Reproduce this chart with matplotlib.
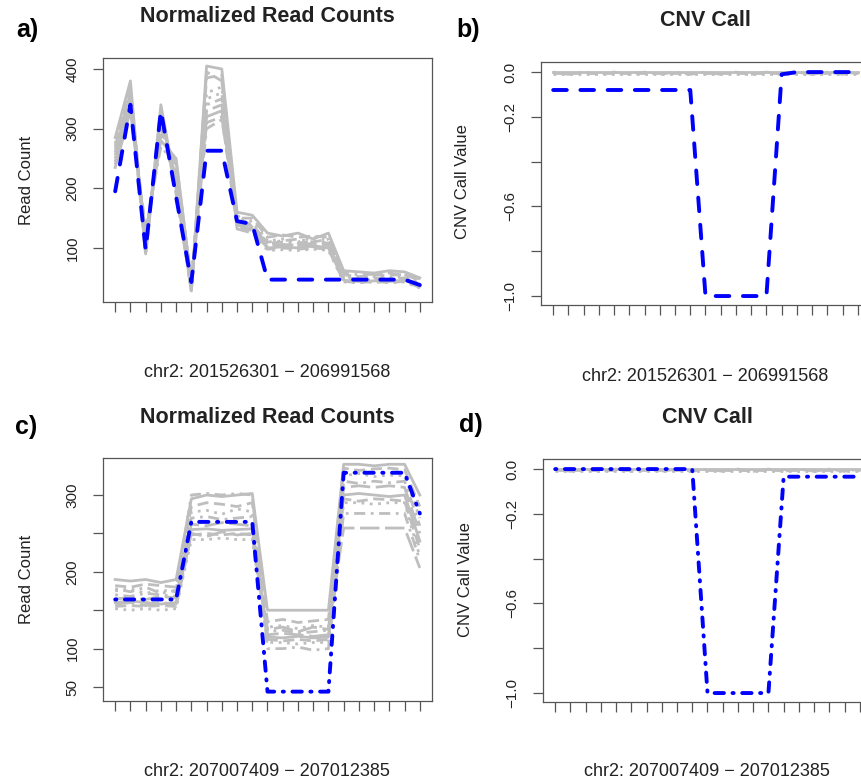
import matplotlib
matplotlib.use("Agg")
import matplotlib.pyplot as plt

plt.rcParams['font.family'] = ['Liberation Sans', 'DejaVu Sans']

W, H = 862, 783

# ---- data (21 bins per region) ----
bins = list(range(1, 22))

# panel a: normalized read counts, region 1
a_blue = [195, 340, 97, 330, 186, 43, 263, 263, 145, 140, 47, 47, 47, 47, 47, 47, 47, 47, 47, 47, 38]
a_grey = [
    [285, 380, 90, 340, 200, 28, 405, 400, 160, 155, 125, 120, 125, 115, 125, 62, 60, 58, 62, 60, 50],
    [270, 365, 100, 320, 215, 32, 385, 390, 150, 150, 118, 122, 118, 120, 118, 55, 52, 55, 54, 56, 45],
    [260, 355, 110, 310, 225, 35, 360, 370, 148, 145, 112, 115, 110, 118, 112, 52, 50, 52, 50, 52, 42],
    [250, 345, 115, 300, 235, 38, 340, 350, 145, 140, 108, 110, 108, 112, 108, 50, 48, 50, 48, 50, 40],
    [240, 335, 120, 290, 245, 40, 330, 340, 140, 138, 105, 106, 104, 108, 104, 48, 46, 47, 46, 48, 38],
    [235, 330, 125, 280, 250, 42, 320, 330, 138, 132, 100, 102, 100, 104, 100, 46, 44, 45, 44, 46, 36],
    [255, 350, 95, 330, 190, 30, 310, 320, 135, 130, 98, 100, 98, 100, 98, 44, 42, 44, 42, 44, 34],
    [275, 370, 105, 300, 205, 45, 350, 360, 142, 128, 96, 97, 96, 98, 96, 43, 42, 43, 42, 43, 33],
    [245, 340, 130, 270, 240, 48, 300, 315, 155, 135, 110, 112, 115, 110, 115, 58, 55, 56, 58, 55, 48],
    [265, 360, 88, 325, 210, 26, 395, 380, 132, 125, 102, 104, 106, 102, 106, 47, 45, 47, 45, 47, 37],
]

# panel b: CNV call, region 1
b_blue = [-0.08, -0.08, -0.08, -0.08, -0.08, -0.08, -0.08, -0.08, -0.08, -0.08,
          -1.0, -1.0, -1.0, -1.0, -1.0, -0.01, 0.0, 0.0, 0.0, 0.0, 0.0]
b_grey = [
    [0.0, 0.0, 0.0, 0.0, 0.0, 0.0, 0.0, 0.0, 0.0, 0.0, 0.0, 0.0, 0.0, 0.0, 0.0, 0.0, 0.0, 0.0, 0.0, 0.0, 0.0],
    [-0.005, -0.005, -0.005, -0.005, -0.005, -0.005, -0.005, -0.005, -0.005, -0.005, -0.005,
     -0.005, -0.005, -0.005, -0.005, -0.005, -0.005, -0.005, -0.005, -0.005, -0.005],
    [-0.01, -0.01, -0.01, -0.01, -0.01, -0.01, -0.01, -0.01, -0.01, -0.01, -0.01,
     -0.01, -0.01, -0.01, -0.01, -0.01, -0.01, -0.01, -0.01, -0.01, -0.01],
    [0.0, -0.01, 0.0, -0.01, 0.0, -0.01, 0.0, -0.01, 0.0, -0.01, 0.0,
     -0.01, 0.0, -0.01, 0.0, -0.01, 0.0, -0.01, 0.0, -0.01, 0.0],
]

# panel c: normalized read counts, region 2
c_blue = [164, 164, 164, 164, 164, 265, 265, 265, 265, 265, 44, 44, 44, 44, 44, 329, 329, 329, 329, 329, 276]
c_grey = [
    [190, 188, 190, 186, 190, 295, 300, 298, 300, 302, 150, 150, 150, 150, 150, 340, 340, 338, 340, 340, 300],
    [182, 180, 184, 182, 180, 285, 290, 288, 285, 290, 135, 138, 134, 136, 138, 335, 332, 334, 335, 333, 285],
    [175, 178, 172, 176, 174, 278, 280, 275, 282, 278, 128, 130, 126, 130, 128, 325, 328, 324, 326, 325, 270],
    [170, 168, 172, 170, 168, 270, 272, 268, 270, 272, 122, 124, 120, 122, 124, 318, 315, 318, 316, 318, 260],
    [165, 166, 164, 168, 166, 262, 260, 264, 262, 260, 118, 120, 118, 116, 118, 310, 312, 310, 312, 310, 250],
    [160, 162, 160, 158, 160, 255, 256, 254, 255, 256, 115, 114, 116, 114, 115, 300, 302, 300, 298, 300, 240],
    [155, 156, 155, 156, 155, 248, 250, 248, 250, 248, 112, 110, 112, 110, 112, 295, 292, 295, 294, 292, 230],
    [152, 150, 152, 150, 152, 242, 242, 244, 242, 242, 108, 108, 106, 108, 108, 290, 290, 288, 290, 290, 220],
    [178, 174, 180, 172, 176, 300, 302, 300, 302, 300, 100, 100, 102, 98, 100, 276, 276, 276, 276, 276, 215],
    [158, 160, 156, 160, 158, 250, 246, 252, 248, 250, 125, 128, 122, 128, 125, 257, 257, 257, 257, 257, 205],
]

# panel d: CNV call, region 2
d_blue = [0.0, 0.0, 0.0, 0.0, 0.0, 0.0, 0.0, 0.0, 0.0, 0.0,
          -1.0, -1.0, -1.0, -1.0, -1.0, -0.034, -0.034, -0.034, -0.034, -0.034, -0.034]
d_grey = b_grey

read_ticks_a = [100, 200, 300, 400]
read_ticks_c = [50, 100, 150, 200, 250, 300]
read_labels_c = ['50', '100', '', '200', '', '300']
cnv_ticks = [0.0, -0.2, -0.4, -0.6, -0.8, -1.0]
cnv_labels = ['0.0', '\u22120.2', '', '\u22120.6', '', '\u22121.0']

region1 = 'chr2: 201526301 \u2212 206991568'
region2 = 'chr2: 207007409 \u2212 207012385'

GREY = '#bebebe'
BLUE = '#0000ff'
TXT = '#222222'
grey_styles = ['-', (0, (4, 2)), (0, (1, 2)), (0, (1, 2, 4, 2)), (0, (7, 2))]


def rect(left, top, right, bottom):
    return [left / W, 1 - bottom / H, (right - left) / W, (bottom - top) / H]


def style_axes(ax, ylim, yticks, ylabels):
    ax.set_xlim(0.2, 21.8)
    ax.set_ylim(*ylim)
    ax.set_xticks(bins)
    ax.set_xticklabels([])
    ax.set_yticks(yticks)
    ax.set_yticklabels(ylabels, rotation=90, va='center', fontsize=11, color=TXT)
    ax.tick_params(direction='out', length=7, width=0.9, color='#555555', pad=10)
    for s in ax.spines.values():
        s.set_color('#555555')
        s.set_linewidth(0.9)


def draw(ax, grey, blue, dashes):
    for i, g in enumerate(grey):
        ax.plot(bins, g, color=GREY, lw=2.0, linestyle=grey_styles[i % len(grey_styles)], zorder=2)
    ax.plot(bins, blue, color=BLUE, lw=2.8, linestyle=(0, dashes),
            dash_capstyle='round', zorder=3)


fig = plt.figure(figsize=(W / 100, H / 100), dpi=100)

ax_a = fig.add_axes(rect(103, 58, 432, 302))
draw(ax_a, a_grey, a_blue, (3.5, 3.5))
style_axes(ax_a, (9.5, 418.4), read_ticks_a, [str(t) for t in read_ticks_a])

ax_b = fig.add_axes(rect(541, 62, 870, 305))
draw(ax_b, b_grey, b_blue, (3.5, 3.5))
style_axes(ax_b, (-1.04, 0.045), cnv_ticks, cnv_labels)

ax_c = fig.add_axes(rect(103, 458, 432, 701))
draw(ax_c, c_grey, c_blue, (0.3, 2.2, 2.4, 2.2))
style_axes(ax_c, (31.8, 348.2), read_ticks_c, read_labels_c)

ax_d = fig.add_axes(rect(543, 459, 872, 702))
draw(ax_d, d_grey, d_blue, (0.3, 2.2, 2.4, 2.2))
style_axes(ax_d, (-1.04, 0.045), cnv_ticks, cnv_labels)


def txt(x, y, s, **kw):
    fig.text(x / W, 1 - y / H, s, ha='center', va='center', color=TXT, **kw)


# panel letters
for x, y, s in [(27, 30, 'a)'), (468, 30, 'b)'), (26, 427, 'c)'), (471, 425, 'd)')]:
    fig.text(x / W, 1 - y / H, s, ha='center', va='center', fontsize=18,
             fontweight='bold', color='black')

# titles
txt(267, 17, 'Normalized Read Counts', fontsize=15.5, fontweight='bold')
txt(705, 20, 'CNV Call', fontsize=15.5, fontweight='bold')
txt(267, 417, 'Normalized Read Counts', fontsize=15.5, fontweight='bold')
txt(707, 417, 'CNV Call', fontsize=15.5, fontweight='bold')

# axis labels
txt(27, 180, 'Read Count', fontsize=12, rotation=90)
txt(463, 182, 'CNV Call Value', fontsize=12, rotation=90)
txt(27, 579, 'Read Count', fontsize=12, rotation=90)
txt(466, 580, 'CNV Call Value', fontsize=12, rotation=90)
txt(267, 373, region1, fontsize=13)
txt(705, 377, region1, fontsize=13)
txt(267, 772, region2, fontsize=13)
txt(707, 772, region2, fontsize=13)

fig.savefig('out.png', dpi=100)
